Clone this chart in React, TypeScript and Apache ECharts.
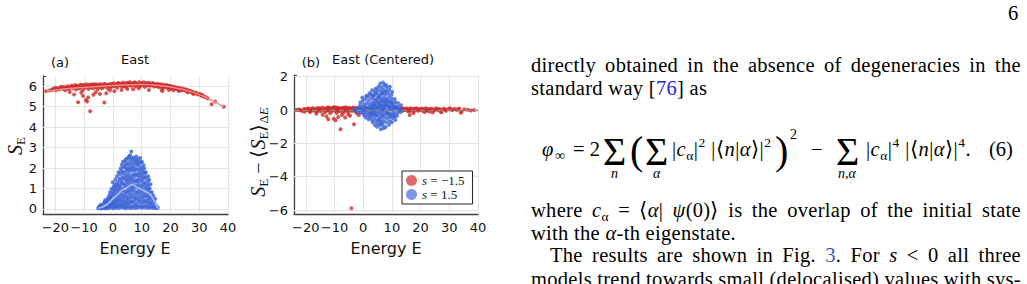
import React, { useEffect, useRef } from "react";
import * as echarts from "echarts";

// ---------------- data ----------------
const xTicks = [-20, -10, 0, 10, 20, 30, 40];
const yTicksA = [0, 1, 2, 3, 4, 5, 6];
const yTicksB = [-6, -4, -2, 0, 2];
const seriesNames = ["s = \u22121.5", "s = 1.5"];

// panel (a): S_E vs energy, s = -1.5
const redA: number[][] = [
  [-23.2, 5.76], [-22, 5.79], [-21.2, 5.82], [-20.5, 5.86], [-19.8, 5.8], [-19.2, 5.9], [-18.6, 5.84], [-18.1, 5.93],
  [-17.5, 5.88], [-17, 5.97], [-16.6, 5.8], [-16.2, 5.92], [-15.7, 6.0], [-15.3, 5.86], [-14.8, 5.95], [-14.4, 6.03],
  [-14, 5.9], [-13.6, 5.98], [-13.1, 6.06], [-12.8, 5.84], [-12.4, 5.95], [-12, 6.02], [-11.6, 5.9], [-11.2, 6.07],
  [-10.8, 5.97], [-10.5, 5.8], [-10.1, 6.04], [-9.7, 5.92], [-9.3, 6.1], [-8.9, 5.99], [-8.5, 5.86], [-8.1, 6.05],
  [-7.7, 5.94], [-7.3, 6.08], [-6.9, 5.9], [-6.5, 6.02], [-6.1, 5.96], [-5.7, 6.1], [-5.3, 5.85], [-4.9, 6.04],
  [-4.5, 5.95], [-4.1, 6.1], [-3.7, 5.9], [-3.3, 6.03], [-2.9, 6.12], [-2.5, 5.97], [-2.1, 6.07], [-1.7, 5.88],
  [-1.3, 6.02], [-0.9, 6.12], [-0.5, 5.96], [-0.1, 6.08], [0.3, 6.15], [0.7, 6.0], [1.1, 6.1], [1.5, 5.93],
  [1.9, 6.16], [2.3, 6.05], [2.7, 6.12], [3.1, 5.97], [3.5, 6.18], [3.9, 6.07], [4.3, 6.13], [4.7, 5.95],
  [5.1, 6.17], [5.5, 6.06], [5.9, 6.2], [6.3, 6.02], [6.7, 6.14], [7.1, 6.08], [7.5, 6.19], [7.9, 5.98],
  [8.3, 6.12], [8.7, 6.06], [9.1, 6.2], [9.5, 6.0], [9.9, 6.15], [10.3, 6.08], [10.7, 6.19], [11.1, 5.96],
  [11.5, 6.12], [11.9, 6.05], [12.3, 6.17], [12.7, 6.02], [13.1, 6.13], [13.5, 6.07], [13.9, 6.16], [14.3, 5.98],
  [14.7, 6.1], [15.1, 6.04], [15.5, 6.12], [15.9, 5.96], [16.3, 6.08], [16.7, 6.01], [17.1, 6.09], [17.5, 5.93],
  [17.9, 6.05], [18.3, 5.98], [18.7, 6.06], [19.1, 5.92], [19.5, 6.02], [19.9, 5.95], [20.3, 6.0], [20.7, 5.89],
  [21.1, 5.97], [21.5, 5.91], [21.9, 5.95], [22.3, 5.85], [22.7, 5.92], [23.1, 5.87], [23.5, 5.9], [23.9, 5.8],
  [24.3, 5.88], [24.7, 5.82], [25.1, 5.85], [25.5, 5.76], [25.9, 5.82], [26.3, 5.74], [26.8, 5.78], [27.3, 5.7],
  [27.8, 5.73], [28.3, 5.66], [28.9, 5.68], [29.5, 5.6], [30.2, 5.62], [31, 5.52], [31.8, 5.48], [33, 5.4],
  [34.3, 5.12], [35.5, 5.25], [38.5, 5.0],
  [-20, 5.93], [-18, 5.97], [-16, 5.88], [-14, 6.0], [-12, 5.9], [-10, 6.0], [-8, 6.08], [-6, 6.05], [-4, 6.0],
  [-2, 6.04], [0, 6.02], [2, 6.1], [4, 6.0], [6, 6.1], [8, 6.15], [10, 6.12], [12, 6.1], [14, 6.1], [16, 6.02],
  [18, 6.02], [20, 5.94], [22, 5.9], [24, 5.84],
  [-21, 5.85], [-19, 5.88], [-17.3, 5.9], [-15.5, 5.94], [-13.8, 5.95], [-12.6, 6.0], [-11.4, 5.96], [-10.6, 6.06],
  [-9.8, 5.98], [-8.8, 6.03], [-7.5, 6.01], [-6.6, 6.1], [-5.5, 5.98], [-4.7, 6.08], [-3.5, 5.98], [-2.7, 6.06],
  [-1.5, 6.06], [-0.7, 6.0], [0.9, 6.05], [1.7, 6.12], [2.9, 6.08], [3.7, 6.02], [4.5, 6.08], [5.3, 6.12],
  [6.5, 6.06], [7.3, 6.12], [8.5, 6.1], [9.3, 6.08], [10.5, 6.05], [11.3, 6.15], [12.5, 6.1], [13.3, 6.05],
  [14.5, 6.06], [15.3, 6.0], [16.5, 6.06], [17.7, 6.0], [18.5, 5.95], [19.7, 5.99], [20.9, 5.93], [21.7, 5.88],
  [22.9, 5.84], [24.1, 5.84], [25.3, 5.8], [26.5, 5.77], [27.6, 5.68], [29, 5.65], [30.6, 5.56], [32.3, 5.46],
  [-12.1, 5.22], [-10.4, 5.52], [-9.4, 5.33], [-9, 5.25], [-7.9, 4.78], [-8.6, 5.45], [-6.8, 5.58], [-6, 5.7],
  [-3, 5.2], [-2.3, 5.66], [-13.5, 5.6], [-15, 5.72], [-11, 5.68], [-4.5, 5.62], [0.5, 5.76], [-1, 5.8], [3, 5.82],
  [5, 5.86], [7, 5.85], [9, 5.9], [12.5, 5.82], [17, 5.84], [17.2, 5.76], [19.5, 5.82], [21, 5.8], [23, 5.76],
  [26, 5.7], [28, 5.62], [31, 5.58],
];
const meanRedA: number[][] = [
  [-23, 5.76], [-20, 5.82], [-16, 5.88], [-12, 5.93], [-8, 5.96], [-4, 6.0], [0, 6.03], [4, 6.06], [8, 6.08],
  [12, 6.08], [16, 6.04], [20, 5.96], [24, 5.85], [28, 5.7], [32, 5.48], [35, 5.27], [38.5, 5.0],
];
// panel (a): s = 1.5
const blueA: number[][] = [
  [-5.1, 0.03], [-4.8, 0.09], [-4.4, 0.04], [-4.6, 0.13], [-4.1, 0.02], [-3.9, 0.11], [-4.2, 0.2], [-3.6, 0.06], [-3.3, 0.17],
  [-3.1, 0.03], [-2.9, 0.12], [-3.2, 0.26], [-2.8, 0.36], [-2.6, 0.08], [-2.4, 0.21], [-2.7, 0.42],
  [-2.1, 0.02], [-1.9, 0.16], [-2.2, 0.31], [-1.8, 0.52], [-1.6, 0.1], [-1.4, 0.26], [-1.7, 0.46], [-1.3, 0.66],
  [-1.1, 0.04], [-0.9, 0.2], [-1.2, 0.39], [-0.8, 0.56], [-1.0, 0.82], [-0.6, 0.12], [-0.3, 0.31], [-0.7, 0.51], [-0.4, 0.73], [-0.5, 0.97],
  [0.1, 0.03], [-0.2, 0.19], [0.2, 0.36], [-0.1, 0.61], [0.0, 0.86], [0.3, 1.1], [-0.1, 1.3],
  [0.6, 0.09], [0.4, 0.28], [0.7, 0.5], [0.5, 0.76], [0.3, 1.01], [0.6, 1.22],
  [1.1, 0.05], [0.9, 0.21], [1.2, 0.41], [0.8, 0.64], [1.0, 0.91], [1.3, 1.16], [0.9, 1.44],
  [1.6, 0.13], [1.4, 0.33], [1.7, 0.56], [1.5, 0.81], [1.3, 1.06], [1.6, 1.31], [1.4, 1.6],
  [2.1, 0.04], [1.9, 0.23], [2.2, 0.46], [2.0, 0.69], [1.8, 0.96], [2.1, 1.21], [2.3, 1.49], [1.9, 1.79],
  [2.6, 0.15], [2.4, 0.37], [2.7, 0.61], [2.5, 0.89], [2.3, 1.11], [2.6, 1.39], [2.4, 1.71], [2.7, 1.98],
  [3.1, 0.07], [2.9, 0.26], [3.2, 0.49], [3.0, 0.76], [2.8, 1.01], [3.1, 1.29], [3.3, 1.56], [2.9, 1.86], [3.1, 2.16],
  [3.6, 0.14], [3.4, 0.36], [3.7, 0.61], [3.5, 0.91], [3.3, 1.19], [3.6, 1.46], [3.4, 1.74], [3.7, 2.04], [3.5, 2.31],
  [4.1, 0.03], [3.9, 0.21], [4.2, 0.44], [4.0, 0.71], [3.8, 0.99], [4.1, 1.24], [4.3, 1.53], [3.9, 1.81], [4.1, 2.09], [4.2, 2.36],
  [4.6, 0.11], [4.4, 0.31], [4.7, 0.59], [4.5, 0.84], [4.3, 1.13], [4.6, 1.41], [4.4, 1.67], [4.7, 1.96], [4.5, 2.21], [4.6, 2.44],
  [5.1, 0.05], [4.9, 0.26], [5.2, 0.49], [5.0, 0.79], [4.8, 1.04], [5.1, 1.33], [5.3, 1.59], [4.9, 1.89], [5.1, 2.14], [5.2, 2.49],
  [5.6, 0.16], [5.4, 0.39], [5.7, 0.66], [5.5, 0.93], [5.3, 1.21], [5.6, 1.47], [5.4, 1.76], [5.7, 2.01], [5.5, 2.29], [5.6, 2.56],
  [6.1, 0.04], [5.9, 0.29], [6.2, 0.54], [6.0, 0.83], [5.8, 1.09], [6.1, 1.39], [6.3, 1.64], [5.9, 1.93], [6.1, 2.19], [6.2, 2.46], [6.0, 2.62],
  [6.6, 0.13], [6.4, 0.37], [6.7, 0.71], [6.5, 0.99], [6.3, 1.26], [6.6, 1.54], [6.4, 1.86], [6.7, 2.09], [6.5, 2.36], [6.4, 2.81],
  [7.1, 0.06], [6.9, 0.31], [7.2, 0.57], [7.0, 0.89], [6.8, 1.14], [7.1, 1.43], [7.3, 1.69], [6.9, 1.99], [7.1, 2.24], [7.2, 2.51],
  [7.6, 0.16], [7.4, 0.43], [7.7, 0.71], [7.5, 1.03], [7.3, 1.29], [7.6, 1.61], [7.4, 1.87], [7.7, 2.16], [7.5, 2.39],
  [8.1, 0.04], [7.9, 0.27], [8.2, 0.56], [8.0, 0.84], [7.8, 1.13], [8.1, 1.41], [8.3, 1.71], [7.9, 1.99], [8.1, 2.31], [8.2, 2.56],
  [8.6, 0.17], [8.4, 0.46], [8.7, 0.74], [8.5, 1.06], [8.3, 1.34], [8.6, 1.63], [8.4, 1.91], [8.7, 2.21], [8.5, 2.44],
  [9.1, 0.07], [8.9, 0.33], [9.2, 0.61], [9.0, 0.89], [8.8, 1.19], [9.1, 1.51], [9.3, 1.79], [8.9, 2.11], [9.1, 2.34],
  [9.6, 0.14], [9.4, 0.44], [9.7, 0.76], [9.5, 1.04], [9.3, 1.36], [9.6, 1.66], [9.4, 1.94], [9.7, 2.26], [9.5, 2.49],
  [10.1, 0.05], [9.9, 0.31], [10.2, 0.59], [10.0, 0.91], [9.8, 1.17], [10.1, 1.49], [10.3, 1.77], [9.9, 2.04], [10.1, 2.31],
  [10.6, 0.17], [10.4, 0.46], [10.7, 0.74], [10.5, 1.06], [10.3, 1.34], [10.6, 1.61], [10.4, 1.89], [10.7, 2.14],
  [11.1, 0.07], [10.9, 0.33], [11.2, 0.61], [11.0, 0.89], [10.8, 1.21], [11.1, 1.49], [11.3, 1.76], [10.9, 1.99],
  [11.6, 0.14], [11.4, 0.41], [11.7, 0.69], [11.5, 1.01], [11.3, 1.27], [11.6, 1.56], [11.4, 1.79],
  [12.1, 0.04], [11.9, 0.29], [12.2, 0.54], [12.0, 0.86], [11.8, 1.11], [12.1, 1.37], [12.3, 1.59],
  [12.6, 0.16], [12.4, 0.41], [12.7, 0.67], [12.5, 0.96], [12.3, 1.19], [12.6, 1.41],
  [13.1, 0.06], [12.9, 0.27], [13.2, 0.53], [13.0, 0.79], [12.8, 1.01], [13.1, 1.21],
  [13.6, 0.11], [13.4, 0.36], [13.7, 0.59], [13.5, 0.81], [14.1, 0.04], [13.9, 0.24], [14.2, 0.46], [14.0, 0.66],
  [14.6, 0.09], [14.4, 0.31], [14.7, 0.49], [15.1, 0.03], [14.9, 0.19], [15.6, 0.07],
];
const meanBlueA: number[][] = [
  [-5, 0.04], [-3.5, 0.1], [-2, 0.22], [-1, 0.35], [0, 0.5], [1, 0.62], [2, 0.75], [3, 0.9], [4, 0.98], [5, 1.05],
  [6, 1.15], [7, 1.2], [8, 1.08], [9, 1.02], [10, 0.95], [11, 0.88], [12, 0.8], [13, 0.72], [14, 0.5], [15, 0.2], [15.5, 0.02],
];

// panel (b): centred S_E, s = -1.5
const redB: number[][] = [
  [-23.3, 0.0], [-22.2, 0.03], [-21.4, -0.04], [-20.6, 0.06], [-19.9, -0.02], [-19.3, 0.09], [-18.7, -0.07], [-18.2, 0.04],
  [-17.6, 0.12], [-17.1, -0.05], [-16.6, 0.08], [-16.1, -0.1], [-15.7, 0.13], [-15.2, 0.02], [-14.8, -0.08], [-14.3, 0.15],
  [-13.9, 0.05], [-13.4, -0.12], [-13, 0.1], [-12.6, -0.03], [-12.1, 0.17], [-11.7, 0.04], [-11.3, -0.09], [-10.9, 0.12],
  [-10.5, 0.0], [-10.1, 0.18], [-9.7, -0.06], [-9.3, 0.09], [-8.9, 0.15], [-8.5, -0.02], [-8.1, 0.11], [-7.7, 0.05],
  [-7.3, -0.1], [-6.9, 0.13], [-6.5, 0.02], [-6.1, 0.16], [-5.7, -0.05], [-5.3, 0.08], [-4.9, 0.14], [-4.5, -0.03],
  [-4.1, 0.1], [-3.7, 0.04], [-3.3, 0.15], [-2.9, -0.07], [-2.5, 0.09], [-2.1, 0.12], [-1.7, 0.0], [-1.3, 0.07],
  [13.2, 0.05], [13.7, -0.04], [14.1, 0.08], [14.6, 0.0], [15.0, 0.1], [15.5, -0.06], [15.9, 0.04], [16.4, 0.11],
  [16.8, -0.03], [17.3, 0.07], [17.7, -0.08], [18.2, 0.03], [18.6, 0.1], [19.1, -0.05], [19.5, 0.06], [20.0, 0.0],
  [20.4, 0.09], [20.9, -0.07], [21.3, 0.04], [21.8, 0.11], [22.2, -0.03], [22.7, 0.06], [23.1, -0.09], [23.6, 0.02],
  [24.0, 0.08], [24.5, -0.05], [25.0, 0.05], [25.5, 0.1], [26.0, -0.02], [26.6, 0.06], [27.1, -0.1], [27.6, 0.03],
  [28.2, 0.08], [28.8, -0.04], [29.5, 0.05], [30.2, 0.1], [31.0, -0.02], [31.8, 0.07], [32.6, 0.0], [33.5, 0.09],
  [34.3, -0.1], [35.2, 0.04], [38.6, 0.0],
  [-20, 0.0], [-18, 0.02], [-16, 0.05], [-14, 0.0], [-12, 0.07], [-10, 0.05], [-8, 0.03], [-6, 0.06], [-4, 0.02],
  [-2, 0.04], [-15, 0.08], [-11, 0.1], [-7, 0.08], [-3, 0.06], [-9, 0.02], [-5, 0.0], [-13, 0.04],
  [-22.8, 0.02], [-21.8, -0.02], [-20.2, 0.04], [-19.6, 0.0], [-18.9, 0.07], [-17.9, -0.03], [-17.3, 0.05], [-16.4, 0.0],
  [-15.5, 0.06], [-14.5, 0.02], [-13.6, 0.08], [-12.9, -0.05], [-12.4, 0.12], [-11.9, -0.02], [-11.1, 0.06], [-10.7, -0.05],
  [-9.9, 0.08], [-9.5, 0.13], [-8.7, 0.06], [-8.3, -0.06], [-7.5, 0.1], [-6.7, -0.04], [-6.3, 0.08], [-5.5, 0.1],
  [-5.1, -0.08], [-4.3, 0.06], [-3.9, -0.05], [-3.5, 0.09], [-2.7, 0.03], [-2.3, -0.04], [-1.9, 0.08], [-1.1, 0.02],
  [13.5, 0.1], [14.4, -0.02], [15.2, 0.05], [16.1, -0.06], [17.0, 0.05], [18.0, 0.08], [19.3, 0.02], [20.6, 0.04],
  [22.0, 0.02], [23.4, 0.06], [24.8, 0.0], [26.3, 0.04], [28.5, 0.02], [30.6, 0.04], [33, 0.05], [36.5, 0.02], [37.5, -0.03],
  [-16.3, -0.22], [-14.1, -0.28], [-12.8, -0.38], [-12.2, -0.55], [-11.5, -0.2], [-10.3, -0.52], [-9.6, -0.62],
  [-8.7, -0.42], [-7.9, -1.15], [-7.4, -0.3], [-6.3, -0.45], [-5.2, -0.25], [-4.6, -0.35], [-3.2, -0.85], [-2.2, -0.2],
  [-1.5, -0.3], [-4.1, -5.9], [16.2, -0.3], [17.5, -0.18], [21.5, -0.12], [24.2, -0.15], [27.2, -0.14], [34.0, -0.16],
  [-18.5, -0.12], [-20.5, -0.1], [-9.2, -0.18], [-6.8, -0.15],
];
// panel (b): s = 1.5
const blueB: number[][] = [
  [-3.2, 0.0], [-2.8, 0.03], [-2.2, -0.02], [-1.8, 0.05], [-2.0, 0.12], [-1.9, -0.1],
  [-1.2, 0.0], [-0.8, 0.1], [-1.1, 0.25], [-0.9, -0.15], [-1.0, 0.45], [-0.7, -0.05],
  [0.1, -0.02], [-0.2, 0.15], [0.2, 0.32], [-0.1, 0.55], [0.0, -0.2], [0.3, -0.32], [-0.3, 0.75], [0.1, 0.05],
  [1.1, 0.0], [0.9, 0.2], [1.2, 0.42], [0.8, 0.68], [1.0, -0.12], [1.3, -0.3], [0.9, -0.45], [1.1, 0.85], [1.2, 0.1],
  [2.1, -0.05], [1.9, 0.15], [2.2, 0.35], [2.0, 0.58], [1.8, 0.82], [2.1, -0.2], [2.3, -0.4], [1.9, -0.55], [2.2, 1.0], [2.0, 0.05],
  [3.1, 0.02], [2.9, 0.22], [3.2, 0.45], [3.0, 0.7], [2.8, 0.95], [3.1, 1.18], [3.3, -0.15], [2.9, -0.35], [3.1, -0.55], [3.2, -0.72], [3.0, 0.1],
  [4.1, -0.03], [3.9, 0.18], [4.2, 0.4], [4.0, 0.62], [3.8, 0.86], [4.1, 1.08], [4.3, 1.28], [3.9, -0.2], [4.1, -0.42], [4.2, -0.65], [4.0, -0.88], [3.8, 0.3],
  [5.1, 0.05], [4.9, 0.25], [5.2, 0.5], [5.0, 0.74], [4.8, 0.98], [5.1, 1.2], [5.3, 1.4], [4.9, -0.12], [5.1, -0.35], [5.2, -0.58], [5.0, -0.8], [4.8, -1.0], [5.2, 0.15],
  [6.1, -0.02], [5.9, 0.2], [6.2, 0.42], [6.0, 0.66], [5.8, 0.9], [6.1, 1.12], [6.3, 1.35], [5.9, 1.58], [6.1, -0.22], [6.2, -0.45], [6.0, -0.7], [5.8, -0.92], [6.1, -1.15], [6.0, 0.3],
  [7.1, 0.03], [6.9, 0.26], [7.2, 0.5], [7.0, 0.74], [6.8, 0.98], [7.1, 1.22], [7.3, 1.45], [6.9, 1.65], [7.1, -0.18], [7.2, -0.4], [7.0, -0.64], [6.8, -0.88], [7.1, -1.1], [7.0, 0.15],
  [8.1, -0.04], [7.9, 0.18], [8.2, 0.42], [8.0, 0.66], [7.8, 0.9], [8.1, 1.14], [8.3, 1.36], [7.9, 1.52], [8.1, -0.26], [8.2, -0.5], [8.0, -0.74], [7.8, -1.02], [8.2, 0.3],
  [9.1, 0.04], [8.9, 0.26], [9.2, 0.5], [9.0, 0.74], [8.8, 0.98], [9.1, 1.2], [9.3, 1.4], [8.9, -0.18], [9.1, -0.42], [9.2, -0.66], [9.0, -0.88], [9.1, 0.15],
  [10.1, -0.02], [9.9, 0.2], [10.2, 0.44], [10.0, 0.66], [9.8, 0.9], [10.1, 1.08], [9.9, -0.24], [10.2, -0.48], [10.0, -0.74], [10.1, 0.32],
  [11.1, 0.03], [10.9, 0.24], [11.2, 0.46], [11.0, 0.66], [10.8, -0.18], [11.1, -0.4], [11.2, -0.6], [11.0, 0.12],
  [12.1, -0.02], [11.9, 0.18], [12.2, 0.4], [12.0, -0.16], [11.8, -0.34], [12.1, 0.08],
  [13.1, 0.02], [12.9, 0.15], [13.2, 0.28], [13.0, -0.12],
  [4.5, 0.1], [5.5, -0.1], [6.5, 0.05], [7.5, -0.05], [4.6, 0.55], [5.6, 0.8], [6.6, -0.35], [7.6, 0.6], [5.5, 0.35],
  [6.5, 0.55], [7.5, 0.35], [4.5, -0.3], [8.6, -0.2], [8.5, 0.55], [3.5, 0.3], [3.6, -0.25], [6.6, 1.0], [7.6, 1.1],
  [5.6, -0.55], [6.4, -0.8], [9.5, 0.45], [9.6, -0.35], [2.5, 0.1], [2.6, -0.2], [1.5, 0.05], [10.5, 0.1], [10.6, -0.3],
  [11.5, 0.2], [3.4, 0.85], [4.4, 1.0],
];

// ---------------- styles ----------------
const SANS = '"DejaVu Sans", sans-serif';
const SERIF = '"Liberation Serif", "Times New Roman", serif';
const RED = "#cf2b2b";
const BLUE = "#3a62d6";
const AXIS = "#404040";

const fmtTick = (ticks: number[]) => (v: number) =>
  ticks.includes(Math.round(v * 1000) / 1000) ? (v < 0 ? "\u2212" + Math.abs(v) : String(v)) : "";

function makeX(gi: number, min: number) {
  return {
    type: "value", gridIndex: gi, min, max: 40, minInterval: 10, maxInterval: 10,
    axisLine: { show: true, onZero: false, lineStyle: { color: AXIS, width: 1.3 } },
    axisTick: { show: true, inside: true, length: 3, lineStyle: { color: AXIS, width: 1 } },
    axisLabel: { showMinLabel: true, showMaxLabel: true, margin: 7, color: "#111", fontSize: 13, fontFamily: SANS, formatter: fmtTick(xTicks) },
    splitLine: { show: false },
  };
}
function makeY(gi: number, min: number, max: number, step: number, ticks: number[]) {
  return {
    type: "value", gridIndex: gi, min, max, minInterval: step, maxInterval: step,
    axisLine: { show: true, onZero: false, lineStyle: { color: AXIS, width: 1.3 } },
    axisTick: { show: true, inside: true, length: 3, lineStyle: { color: AXIS, width: 1 } },
    axisLabel: { showMinLabel: true, showMaxLabel: true, margin: 6, color: "#111", fontSize: 13, fontFamily: SANS, formatter: fmtTick(ticks) },
    splitLine: { show: false },
  };
}
function gridLines(gi: number, xs: number[], ys: number[]) {
  return {
    type: "scatter", xAxisIndex: gi, yAxisIndex: gi, data: [], silent: true, z: 1,
    markLine: {
      z: 1, silent: true, symbol: "none", label: { show: false },
      lineStyle: { color: "#e4e4e4", width: 1, type: "solid" },
      emphasis: { disabled: true },
      data: [...xs.map((v) => ({ xAxis: v })), ...ys.map((v) => ({ yAxis: v }))],
    },
  };
}
const scatter = (gi: number, name: string, data: number[][], color: string) => ({
  type: "scatter", name, xAxisIndex: gi, yAxisIndex: gi, data, symbolSize: 4, z: 3,
  itemStyle: { color, opacity: 0.8 }, emphasis: { disabled: true },
});
const meanLine = (data: number[][], color: string, width: number) => ({
  type: "line", name: "mean", xAxisIndex: 0, yAxisIndex: 0, data, symbol: "none", showSymbol: false, z: 4,
  lineStyle: { color, width }, emphasis: { disabled: true },
});

const richMath = {
  s: { fontFamily: SERIF, fontStyle: "italic", fontSize: 20, lineHeight: 24, verticalAlign: "middle", fill: "#111", color: "#111" },
  e: { fontFamily: SERIF, fontSize: 13, lineHeight: 12, verticalAlign: "bottom", fill: "#111", color: "#111" },
  ei: { fontFamily: SERIF, fontStyle: "italic", fontSize: 13, lineHeight: 12, verticalAlign: "bottom", fill: "#111", color: "#111" },
  n: { fontFamily: SERIF, fontSize: 20, lineHeight: 24, verticalAlign: "middle", fill: "#111", color: "#111" },
};
const txt = (x: number, y: number, text: string, size: number) => ({
  type: "text", x, y, silent: true,
  style: { text, font: `${size}px ${SANS}`, fill: "#111", align: "center", verticalAlign: "middle", textAlign: "center", textVerticalAlign: "middle" },
});

const option: any = {
  animation: false,
  backgroundColor: "#fff",
  grid: [
    { left: 43, top: 76, width: 185, height: 138, outerBoundsMode: "none" },
    { left: 294, top: 75, width: 184, height: 139, outerBoundsMode: "none" },
  ],
  xAxis: [makeX(0, -24.3), makeX(1, -24.1)],
  yAxis: [makeY(0, -0.25, 6.5, 1, yTicksA), makeY(1, -6.24, 2.1, 2, yTicksB)],
  legend: {
    show: true, orient: "vertical", left: 402, top: 171, icon: "circle", itemWidth: 11, itemHeight: 11, itemGap: 1,
    padding: [3, 8, 3, 4], borderColor: "#222", borderWidth: 1, backgroundColor: "#fff", borderRadius: 0, selectedMode: false,
    data: [
      { name: seriesNames[0], itemStyle: { color: "#e06a6a", opacity: 1 } },
      { name: seriesNames[1], itemStyle: { color: "#7c96e6", opacity: 1 } },
    ],
    formatter: (n: string) => n.replace(/^s/, "{i|s}"),
    textStyle: { fontFamily: SERIF, fontSize: 13, color: "#111", rich: { i: { fontFamily: SERIF, fontStyle: "italic", fontSize: 13, color: "#111" } } },
  },
  graphic: [
    txt(60, 62, "(a)", 13),
    txt(135, 59, "East", 13),
    txt(311, 62, "(b)", 13),
    txt(383, 59, "East (Centered)", 13),
    txt(135, 248, "Energy E", 16),
    txt(386, 248, "Energy E", 16),
    {
      type: "text", x: 15, y: 146, rotation: Math.PI / 2, silent: true,
      style: { text: "{s|S}{e|E}", rich: richMath, align: "center", verticalAlign: "middle", textAlign: "center", textVerticalAlign: "middle" },
    },
    {
      type: "text", x: 258, y: 152, rotation: Math.PI / 2, silent: true,
      style: { text: "{s|S}{e|E}{n| \u2212 \u27E8}{s|S}{e|E}{n|\u27E9}{e|\u0394}{ei|E}", rich: richMath, align: "center", verticalAlign: "middle", textAlign: "center", textVerticalAlign: "middle" },
    },
  ],
  series: [
    gridLines(0, xTicks, yTicksA),
    gridLines(1, xTicks, yTicksB),
    scatter(0, seriesNames[0], redA, RED),
    meanLine(meanRedA, "#ec8f8f", 1.5),
    scatter(0, seriesNames[1], blueA, BLUE),
    meanLine(meanBlueA, "#a3b6ee", 1.8),
    scatter(1, seriesNames[0], redB, RED),
    scatter(1, seriesNames[1], blueB, BLUE),
    {
      type: "scatter", xAxisIndex: 1, yAxisIndex: 1, data: [], silent: true, z: 6,
      markLine: { z: 6, silent: true, symbol: "none", label: { show: false }, emphasis: { disabled: true },
        lineStyle: { color: "#8a8a8a", width: 1.3, type: [5, 4] }, data: [{ yAxis: 0 }] },
    },
  ],
};

// ---------------- page text ----------------
const FS = 20.5;
const LS = 0.3;

function Abs({ x, base, size = FS, italic = false, color = "#000", lh, ls = 0, children }: any) {
  const L = lh ?? size * 1.107;
  return (
    <div style={{ position: "absolute", left: x, top: base - L / 2 - 0.3375 * size, fontFamily: SERIF, fontSize: size, lineHeight: `${L}px`, fontStyle: italic ? "italic" : "normal", color, whiteSpace: "nowrap", letterSpacing: ls }}>
      {children}
    </div>
  );
}
function JLine({ base, left = 531, width = 490, words }: any) {
  const L = FS * 1.107;
  return (
    <div style={{ position: "absolute", left, top: base - L / 2 - 0.3375 * FS, width, display: "flex", justifyContent: "space-between", alignItems: "baseline", fontFamily: SERIF, fontSize: FS, lineHeight: `${L}px`, color: "#000", whiteSpace: "nowrap", letterSpacing: LS }}>
      {words.map((w: any, i: number) => <span key={i}>{w}</span>)}
    </div>
  );
}
const Sub = ({ children }: any) => <span style={{ fontSize: 13.5, position: "relative", top: 4, lineHeight: 0 }}>{children}</span>;
const Sup = ({ children }: any) => <span style={{ fontSize: 13.5, position: "relative", top: -9, lineHeight: 0 }}>{children}</span>;
const I = ({ children }: any) => <span style={{ fontStyle: "italic" }}>{children}</span>;
const LINK = "#2323e8";

export default function App() {
  const ref = useRef<HTMLDivElement>(null);
  useEffect(() => {
    const chart = echarts.init(ref.current!, null, { renderer: "svg" });
    chart.setOption(option);
    return () => chart.dispose();
  }, []);
  return (
    <div style={{ position: "fixed", left: 0, top: 0, width: 1027, height: 284, background: "#fff", overflow: "hidden" }}>
      <div ref={ref} style={{ position: "absolute", left: 0, top: 0, width: 525, height: 284 }} />
      <Abs x={1008} base={20}>6</Abs>
      <JLine base={72} words={"directly obtained in the absence of degeneracies in the".split(" ")} />
      <Abs x={531} base={95} ls={LS}>standard way [<span style={{ color: LINK }}>76</span>] as</Abs>

      {/* equation (6) */}
      <Abs x={542} base={156} italic>φ</Abs>
      <Abs x={555} base={160} size={14}>∞</Abs>
      <Abs x={573} base={156}>= 2</Abs>
      <Abs x={603} base={165} size={40} lh={28}>Σ</Abs>
      <Abs x={611} base={179} size={14} italic lh={14}>n</Abs>
      <Abs x={630} base={164} size={40} lh={30}>(</Abs>
      <Abs x={645} base={165} size={40} lh={28}>Σ</Abs>
      <Abs x={653} base={179} size={14} italic lh={14}>α</Abs>
      <Abs x={672} base={156} ls={0.5}>|<I>c</I><Sub>α</Sub>|<Sup>2</Sup> |⟨<I>n</I>|<I>α</I>⟩|<Sup>2</Sup></Abs>
      <Abs x={775} base={164} size={40} lh={30}>)</Abs>
      <Abs x={790} base={140} size={14} lh={14}>2</Abs>
      <Abs x={811} base={156}>−</Abs>
      <Abs x={836} base={165} size={40} lh={28}>Σ</Abs>
      <Abs x={838} base={179} size={14} italic lh={14}>n,α</Abs>
      <Abs x={866} base={156} ls={0.5}>|<I>c</I><Sub>α</Sub>|<Sup>4</Sup> |⟨<I>n</I>|<I>α</I>⟩|<Sup>4</Sup>.</Abs>
      <Abs x={989} base={156}>(6)</Abs>

      <JLine base={217} words={["where", <><I>c</I><Sub>α</Sub></>, "=", <>⟨<I>α</I>|</>, <><I>ψ</I>(0)⟩</>, "is", "the", "overlap", "of", "the", "initial", "state"]} />
      <Abs x={531} base={240} ls={LS}>with the <I>α</I>-th eigenstate.</Abs>
      <JLine base={262} left={550} width={471} words={["The", "results", "are", "shown", "in", "Fig.", <><span style={{ color: "#3556c8" }}>3</span>.</>, "For", <I>s</I>, "<", "0", "all", "three"]} />
      <JLine base={286} words={"models trend towards small (delocalised) values with sys-".split(" ")} />
    </div>
  );
}
